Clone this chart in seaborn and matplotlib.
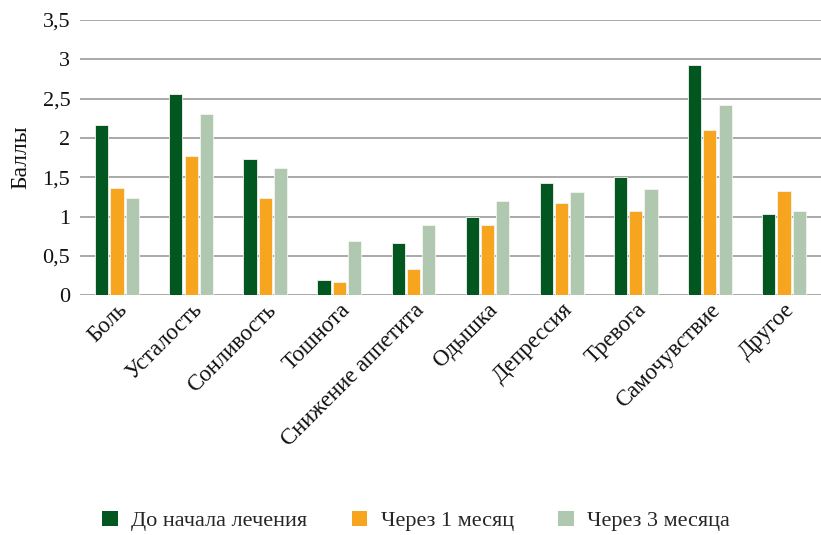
import matplotlib
matplotlib.use("Agg")
import matplotlib.pyplot as plt
import seaborn as sns
import pandas as pd
from matplotlib.patches import Patch

categories = ["Боль", "Усталость", "Сонливость", "Тошнота", "Снижение аппетита",
              "Одышка", "Депрессия", "Тревога", "Самочувствие", "Другое"]
series = ["До начала лечения", "Через 1 месяц", "Через 3 месяца"]
before = [2.17, 2.56, 1.73, 0.20, 0.66, 1.00, 1.43, 1.50, 2.93, 1.03]
month1 = [1.36, 1.77, 1.24, 0.165, 0.335, 0.89, 1.17, 1.07, 2.10, 1.33]
month3 = [1.24, 2.31, 1.62, 0.69, 0.89, 1.20, 1.31, 1.35, 2.42, 1.07]
yticks = [0, 0.5, 1, 1.5, 2, 2.5, 3, 3.5]
colors = ["#02561f", "#f7a51e", "#b0c8b0"]

rows = []
for name, vals in zip(series, [before, month1, month3]):
    for c, v in zip(categories, vals):
        rows.append({"cat": c, "series": name, "val": v})
df = pd.DataFrame(rows)

sns.set_theme(style="white")
plt.rcParams["font.family"] = ["Liberation Serif", "DejaVu Serif"]

fig = plt.figure(figsize=(8.21, 5.35), dpi=100)
ax = fig.add_axes([80 / 821, 1 - 295.3 / 535, 741 / 821, 275.3 / 535])

sns.barplot(data=df, x="cat", y="val", hue="series", palette=colors,
            saturation=1, width=0.62, gap=0.14, edgecolor="#f4f4f0",
            linewidth=0.6, ax=ax, legend=False, zorder=3)

ax.set_ylim(0, 3.5)
ax.set_xlim(-0.5, len(categories) - 0.5)
ax.set_yticks(yticks)
ax.set_yticklabels([f"{t:g}".replace(".", ",") for t in yticks], fontsize=16)
ax.yaxis.grid(True, color="#a3a3a3", linewidth=1.3, zorder=0)
ax.set_axisbelow(True)
for s in ax.spines.values():
    s.set_visible(False)
ax.tick_params(axis="both", length=0, colors="#111111")
ax.tick_params(axis="y", pad=7)
ax.tick_params(axis="x", pad=3)
ax.set_xticks(range(len(categories)))
ax.set_xticklabels(categories, rotation=45, ha="right", rotation_mode="anchor",
                   fontsize=16.5)
ax.set_xlabel("")
ax.set_ylabel("Баллы", fontsize=17, labelpad=8, color="#111111")

handles = [Patch(facecolor=c, edgecolor="none") for c in colors]
fig.legend(handles, series, loc="center", bbox_to_anchor=(416 / 821, 1 - 521 / 535),
           ncol=3, frameon=False, fontsize=16, handlelength=0.7, handleheight=0.7,
           handletextpad=0.6, columnspacing=2.0)

fig.savefig("out.png", dpi=100)
